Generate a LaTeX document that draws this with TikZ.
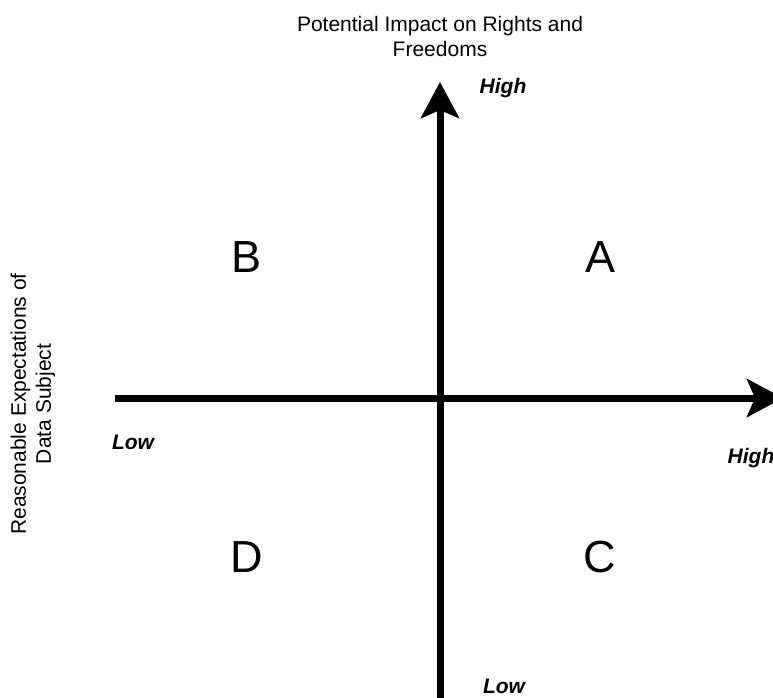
\documentclass[tikz,border=0pt]{standalone}
\usepackage{fontspec}
\setmainfont{Liberation Sans}
\usetikzlibrary{arrows.meta}
\tikzset{
  axis/.style={line width=7pt, -{Stealth[length=36pt,width=38pt,inset=8pt]}},
  label/.style={font=\fontsize{21}{25}\selectfont, align=center, inner sep=0pt},
  endlabel/.style={font=\fontsize{21}{25}\selectfont\bfseries\itshape, inner sep=0pt},
  quad/.style={font=\fontsize{45}{50}\selectfont, inner sep=0pt},
}
\begin{document}
\begin{tikzpicture}[x=1pt,y=-1pt]
\useasboundingbox (0,0) rectangle (773,697);
\clip (0,0) rectangle (773,697);
\coordinate (vbot) at (440,705);
\coordinate (vtop) at (440,82);
\coordinate (hleft) at (115,398);
\coordinate (hright) at (783,398);
\draw[axis] (vbot) -- (vtop);
\draw[axis] (hleft) -- (hright);
\node[label] (title) at (440,36) {Potential Impact on Rights and\\Freedoms};
\node[label, rotate=90] (ylab) at (33,404) {Reasonable Expectations of\\Data Subject};
\node[endlabel] (vhigh) at (503,88) {High};
\node[endlabel] (vlow) at (504,686) {Low};
\node[endlabel] (hlow) at (133,442) {Low};
\node[endlabel] (hhigh) at (751,458) {High};
\node[quad] (B) at (247,257) {B};
\node[quad] (A) at (600,257) {A};
\node[quad] (D) at (247,557) {D};
\node[quad] (C) at (600,557) {C};
\end{tikzpicture}
\end{document}
